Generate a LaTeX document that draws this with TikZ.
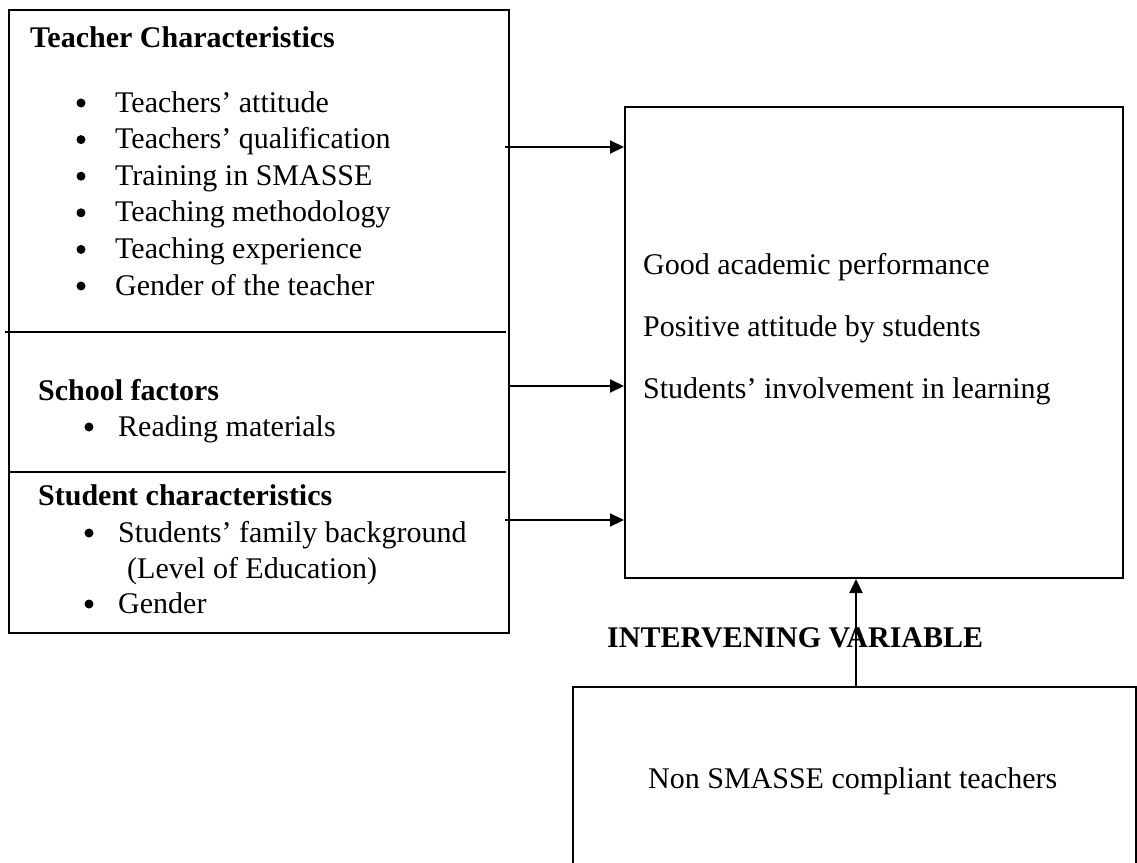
\documentclass[tikz,border=0pt]{standalone}
\usepackage{fontspec}
\setmainfont{Liberation Serif}
\usetikzlibrary{arrows.meta}
\begin{document}
\begin{tikzpicture}[x=1pt,y=-1pt,
  box/.style={draw=black,line width=2pt,inner sep=0pt,anchor=north west},
  txt/.style={anchor=base west,inner sep=0pt,font=\fontsize{30}{36}\selectfont},
  hd/.style={anchor=base west,inner sep=0pt,font=\fontsize{30}{36}\selectfont\bfseries},
  bul/.style={circle,fill=black,inner sep=0pt,minimum size=9pt},
  conn/.style={line width=2pt,-{Triangle[length=14pt,width=13pt]}},
  sepline/.style={line width=2pt}]
\useasboundingbox (0,0) rectangle (1137,862);
\clip (0,0) rectangle (1137,862);
% boxes
\node[box,minimum width=500pt,minimum height=623pt] (left) at (8,9) {};
\node[box,minimum width=498pt,minimum height=471pt] (right) at (624,106) {};
\node[box,minimum width=563pt,minimum height=240pt] (bot) at (572,686) {};
% dividers
\coordinate (d1a) at (5,332);
\coordinate (d1b) at (506,332);
\coordinate (d2a) at (8,472);
\coordinate (d2b) at (506,472);
\draw[sepline] (d1a) -- (d1b);
\draw[sepline] (d2a) -- (d2b);
% teacher characteristics
\node[hd] (t0) at (30,47) {Teacher Characteristics};
\foreach \y/\t [count=\i] in {112/Teachers’ attitude,148.6/Teachers’ qualification,185.2/Training in SMASSE,221.8/Teaching methodology,258.4/Teaching experience,295/Gender of the teacher}{
  \node[bul] (tb\i) at (81,\y-9) {};
  \node[txt] (tt\i) at (115,\y) {\t};
}
% school factors
\node[hd] (s0) at (38,400) {School factors};
\node[bul] (sb1) at (89,427) {};
\node[txt] (st1) at (118,436) {Reading materials};
% student characteristics
\node[hd] (u0) at (38,505) {Student characteristics};
\node[bul] (ub1) at (89,533) {};
\node[txt] (ut1) at (118,542) {Students’ family background};
\node[txt] (ut2) at (127,578) {(Level of Education)};
\node[bul] (ub2) at (89,604) {};
\node[txt] (ut3) at (118,613) {Gender};
% outcomes
\node[txt] (o1) at (643,274) {Good academic performance};
\node[txt] (o2) at (643,336) {Positive attitude by students};
\node[txt] (o3) at (643,398) {Students’ involvement in learning};
% intervening
\node[hd] (iv) at (607,647) {INTERVENING VARIABLE};
\node[txt] (nc) at (648,788) {Non SMASSE compliant teachers};
% connectors
\coordinate (a1) at (505,147);
\coordinate (a2) at (508,386);
\coordinate (a3) at (505,520);
\coordinate (a4) at (856,0);
\draw[conn] (a1) -- (right.west |- a1);
\draw[conn] (a2) -- (right.west |- a2);
\draw[conn] (a3) -- (right.west |- a3);
\draw[conn] (bot.north -| a4) -- (right.south -| a4);
\end{tikzpicture}
\end{document}
